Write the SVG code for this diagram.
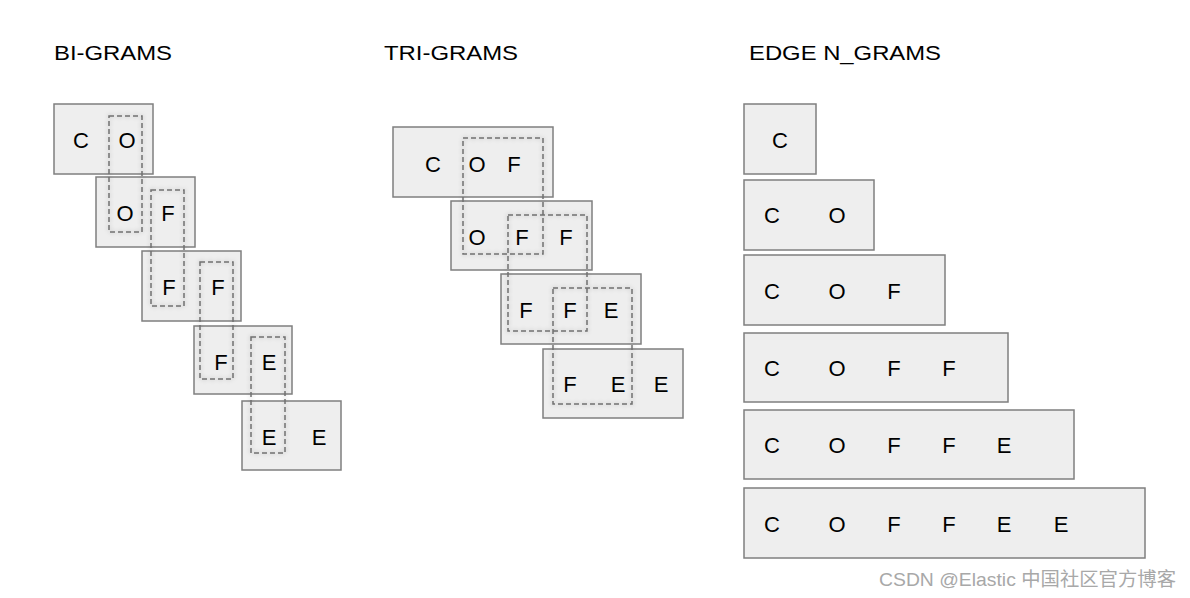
<svg xmlns="http://www.w3.org/2000/svg" width="1190" height="598" viewBox="0 0 1190 598">
<defs>
<filter id="sh" x="-20%" y="-20%" width="140%" height="140%">
<feDropShadow dx="0" dy="0" stdDeviation="2" flood-color="#000" flood-opacity="0.25"/>
</filter>
<style>
.box{fill:#eeeeee;stroke:#7f7f7f;stroke-width:1.5}
.win{fill:none;stroke:#707070;stroke-width:1.5;stroke-dasharray:5 3;filter:url(#sh)}
.t{font-family:"Liberation Sans",Arial,sans-serif;font-size:22px;fill:#000;text-anchor:middle}
.h{font-family:"Liberation Sans",Arial,sans-serif;font-size:21px;fill:#000}
.wm{font-family:"Liberation Sans","Noto Sans CJK SC",sans-serif;font-size:19px;fill:#a8a8a8}
</style>
</defs>
<rect width="1190" height="598" fill="#ffffff"/>
<g id="titles">
<text class="h" x="54" y="60" textLength="118" lengthAdjust="spacingAndGlyphs">BI-GRAMS</text>
<text class="h" x="384" y="60" textLength="134" lengthAdjust="spacingAndGlyphs">TRI-GRAMS</text>
<text class="h" x="749" y="60" textLength="192" lengthAdjust="spacingAndGlyphs">EDGE N_GRAMS</text>
</g>
<g id="bi1"><rect class="box" x="54" y="104" width="99" height="70"/><text class="t" x="81" y="148">C</text><text class="t" x="127" y="148">O</text></g>
<g id="bi2"><rect class="box" x="96" y="177" width="99" height="70"/><text class="t" x="125" y="221">O</text><text class="t" x="168" y="221">F</text></g>
<g id="bi3"><rect class="box" x="142" y="251" width="99" height="70"/><text class="t" x="169" y="295">F</text><text class="t" x="218" y="295">F</text></g>
<g id="bi4"><rect class="box" x="194" y="326" width="98" height="68"/><text class="t" x="221" y="370">F</text><text class="t" x="269" y="370">E</text></g>
<g id="bi5"><rect class="box" x="242" y="401" width="99" height="69"/><text class="t" x="269" y="445">E</text><text class="t" x="319" y="445">E</text></g>
<g id="tri1"><rect class="box" x="393" y="127" width="160" height="70"/><text class="t" x="433" y="172">C</text><text class="t" x="477" y="172">O</text><text class="t" x="514" y="172">F</text></g>
<g id="tri2"><rect class="box" x="451" y="201" width="141" height="69"/><text class="t" x="477" y="245">O</text><text class="t" x="522" y="245">F</text><text class="t" x="566" y="245">F</text></g>
<g id="tri3"><rect class="box" x="501" y="274" width="140" height="70"/><text class="t" x="526" y="318">F</text><text class="t" x="570" y="318">F</text><text class="t" x="611" y="318">E</text></g>
<g id="tri4"><rect class="box" x="543" y="349" width="140" height="69"/><text class="t" x="570" y="392">F</text><text class="t" x="618" y="392">E</text><text class="t" x="661" y="392">E</text></g>
<g id="edge1"><rect class="box" x="744" y="104" width="72" height="70"/><text class="t" x="780" y="148">C</text></g>
<g id="edge2"><rect class="box" x="744" y="180" width="130" height="70"/><text class="t" x="772" y="223">C</text><text class="t" x="837" y="223">O</text></g>
<g id="edge3"><rect class="box" x="744" y="255" width="201" height="70"/><text class="t" x="772" y="299">C</text><text class="t" x="837" y="299">O</text><text class="t" x="894" y="299">F</text></g>
<g id="edge4"><rect class="box" x="744" y="333" width="264" height="69"/><text class="t" x="772" y="376">C</text><text class="t" x="837" y="376">O</text><text class="t" x="894" y="376">F</text><text class="t" x="949" y="376">F</text></g>
<g id="edge5"><rect class="box" x="744" y="410" width="330" height="69"/><text class="t" x="772" y="453">C</text><text class="t" x="837" y="453">O</text><text class="t" x="894" y="453">F</text><text class="t" x="949" y="453">F</text><text class="t" x="1004" y="453">E</text></g>
<g id="edge6"><rect class="box" x="744" y="488" width="401" height="70"/><text class="t" x="772" y="532">C</text><text class="t" x="837" y="532">O</text><text class="t" x="894" y="532">F</text><text class="t" x="949" y="532">F</text><text class="t" x="1004" y="532">E</text><text class="t" x="1061" y="532">E</text></g>
<g id="connectors">
<rect class="win" x="109" y="116" width="33" height="116"/>
<rect class="win" x="151" y="190" width="33" height="116"/>
<rect class="win" x="200" y="262" width="33" height="117"/>
<rect class="win" x="251" y="337" width="34" height="116"/>
<rect class="win" x="463" y="138" width="80" height="116"/>
<rect class="win" x="508" y="215" width="79" height="116"/>
<rect class="win" x="553" y="288" width="79" height="116"/>
</g>
<text class="wm" x="879" y="586" textLength="297" lengthAdjust="spacingAndGlyphs">CSDN @Elastic 中国社区官方博客</text>
</svg>
